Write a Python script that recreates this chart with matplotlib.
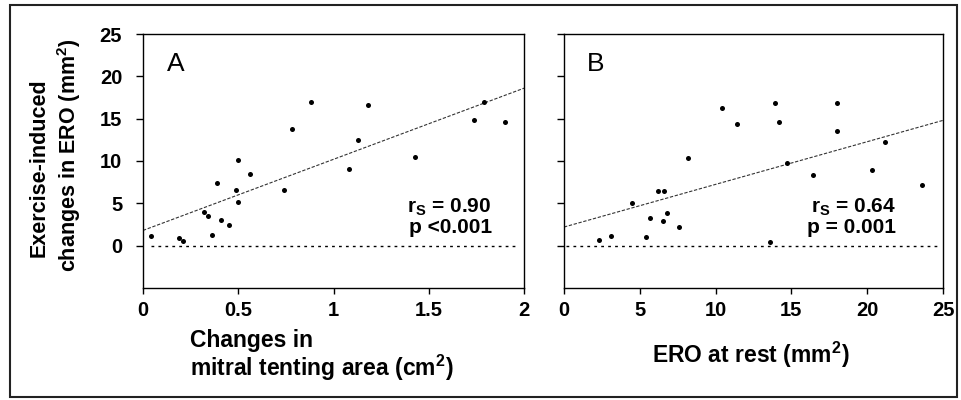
import matplotlib
matplotlib.use('Agg')
from matplotlib import pyplot as plt
from matplotlib.patches import Rectangle

# Panel A: changes in mitral tenting area vs exercise-induced change in ERO
a_x = [0.04, 0.19, 0.21, 0.32, 0.34, 0.36, 0.39, 0.41, 0.45, 0.49, 0.50, 0.50,
       0.56, 0.74, 0.78, 0.88, 1.08, 1.13, 1.18, 1.43, 1.74, 1.79, 1.90]
a_y = [1.1, 0.9, 0.6, 4.0, 3.5, 1.3, 7.4, 3.0, 2.4, 6.6, 10.1, 5.1,
       8.5, 6.6, 13.8, 17.0, 9.1, 12.5, 16.6, 10.5, 14.9, 17.0, 14.6]
a_fit_x = [0, 2]
a_fit_y = [1.8, 18.6]

# Panel B: ERO at rest vs exercise-induced change in ERO
b_x = [2.3, 3.1, 4.5, 5.4, 5.7, 6.2, 6.6, 6.5, 6.8, 7.6, 8.2, 10.4, 11.4,
       13.6, 13.9, 14.2, 14.7, 16.4, 18.0, 18.0, 20.3, 21.2, 23.6]
b_y = [0.7, 1.2, 5.0, 1.0, 3.3, 6.4, 6.4, 2.9, 3.9, 2.2, 10.3, 16.3, 14.4,
       0.4, 16.8, 14.6, 9.8, 8.3, 16.8, 13.5, 8.9, 12.2, 7.2]
b_fit_x = [0, 25]
b_fit_y = [2.2, 14.8]

y_ticks = [0, 5, 10, 15, 20, 25]
a_ticks = [0, 0.5, 1, 1.5, 2]
a_tick_labels = ['0', '0.5', '1', '1.5', '2']
b_ticks = [0, 5, 10, 15, 20, 25]

plt.rcParams['font.family'] = ['Liberation Sans', 'DejaVu Sans']
plt.rcParams['mathtext.fontset'] = 'custom'
plt.rcParams['mathtext.rm'] = 'Liberation Sans:bold'
plt.rcParams['mathtext.bf'] = 'Liberation Sans:bold'

fig = plt.figure(figsize=(9.61, 4.0), dpi=100)
fig.patches.append(Rectangle((0.0104, 0.0075), 0.9854, 0.98, transform=fig.transFigure,
                             fill=False, edgecolor='#222222', linewidth=1.5))

ax_a = fig.add_axes([0.1488, 0.28, 0.3965, 0.635])
ax_b = fig.add_axes([0.5869, 0.28, 0.3944, 0.635])

for ax, xs, ys, fx, fy, zero_x in [(ax_a, a_x, a_y, a_fit_x, a_fit_y, (0.04, 1.95)),
                                   (ax_b, b_x, b_y, b_fit_x, b_fit_y, (0.1, 24.8))]:
    ax.scatter(xs, ys, s=13, color='black', zorder=3, linewidths=0)
    ax.plot(fx, fy, color='#333333', linestyle=(0, (3, 1.5)), linewidth=0.8)
    ax.hlines(0, zero_x[0], zero_x[1], colors='black',
              linestyles=(0, (2, 3)), linewidth=1.0)
    ax.set_xlim(fx[0], fx[1])
    ax.set_ylim(-5, 25)
    ax.set_yticks(y_ticks)
    for sp in ax.spines.values():
        sp.set_linewidth(1.0)
    ax.tick_params(axis='x', direction='out', length=4, width=1.0, pad=5)
    ax.tick_params(axis='y', direction='out', length=5, width=1.0, pad=10)

ax_a.set_xticks(a_ticks)
ax_a.set_xticklabels(a_tick_labels, fontsize=14.5, fontweight='bold')
ax_a.set_yticklabels([str(t) for t in y_ticks], fontsize=14.5, fontweight='bold')
ax_b.set_xticks(b_ticks)
ax_b.set_xticklabels([str(t) for t in b_ticks], fontsize=14.5, fontweight='bold')
ax_b.set_yticklabels([])

# Panel letters
ax_a.text(0.063, 0.853, 'A', transform=ax_a.transAxes, fontsize=19)
ax_b.text(0.061, 0.853, 'B', transform=ax_b.transAxes, fontsize=19)

# Statistics
stats = [(ax_a, 1.83, r'r$_\mathregular{S}$ = 0.90', 'p <0.001'),
         (ax_b, 21.9, r'r$_\mathregular{S}$ = 0.64', 'p = 0.001')]
for ax, xr, line1, line2 in stats:
    ax.text(xr, 3.9, line1, ha='right', va='baseline', fontsize=15, fontweight='bold')
    ax.text(xr, 1.5, line2, ha='right', va='baseline', fontsize=15, fontweight='bold')

# Axis labels
fig.text(190 / 961, 1 - 347 / 400, 'Changes in', ha='left', va='baseline',
         fontsize=16.5, fontweight='bold')
fig.text(190 / 961, 1 - 376 / 400, 'mitral tenting area (cm$^\\mathregular{2}$)',
         ha='left', va='baseline', fontsize=16.5, fontweight='bold')
fig.text(751 / 961, 1 - 363 / 400, 'ERO at rest (mm$^\\mathregular{2}$)',
         ha='center', va='baseline', fontsize=16.5, fontweight='bold')
fig.text(45 / 961, 1 - 168 / 400, 'Exercise-induced', rotation=90, rotation_mode='anchor',
         ha='center', va='baseline', fontsize=15.5, fontweight='bold')
fig.text(76 / 961, 1 - 155 / 400, 'changes in ERO (mm$^\\mathregular{2}$)', rotation=90,
         rotation_mode='anchor', ha='center', va='baseline', fontsize=15.5, fontweight='bold')

fig.savefig('out.png', dpi=100)
